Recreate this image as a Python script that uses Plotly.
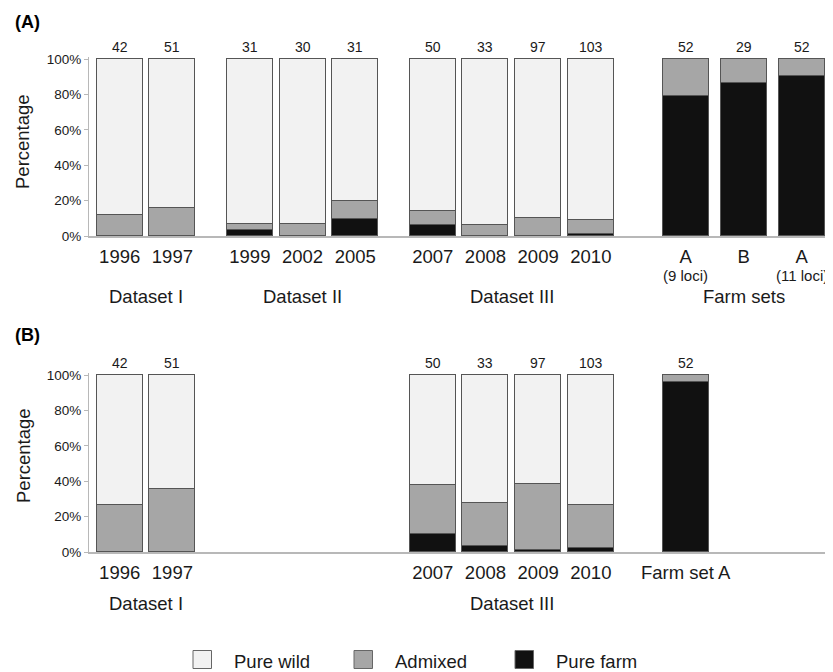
import plotly.graph_objects as go

# ---------------- data ----------------
a_keys = ["1996", "1997", "1999", "2002", "2005", "2007", "2008", "2009", "2010", "A9", "B", "A11"]
a_labels = ["1996", "1997", "1999", "2002", "2005", "2007", "2008", "2009", "2010", "A", "B", "A"]
a_n = [42, 51, 31, 30, 31, 50, 33, 97, 103, 52, 29, 52]
a_farm = [0, 0, 3.2, 0, 9.7, 6.0, 0, 0, 1.0, 78.8, 86.2, 90.4]
a_admixed = [11.9, 15.7, 3.2, 6.7, 9.7, 8.0, 6.1, 10.3, 7.7, 21.2, 13.8, 9.6]
a_wild = [88.1, 84.3, 93.6, 93.3, 80.6, 86.0, 93.9, 89.7, 91.3, 0, 0, 0]
a_sub = {"A9": "(9 loci)", "A11": "(11 loci)"}
a_groups = [
    ("Dataset I", ["1996", "1997"]),
    ("Dataset II", ["1999", "2002", "2005"]),
    ("Dataset III", ["2007", "2008", "2009", "2010"]),
    ("Farm sets", ["A9", "B", "A11"]),
]

b_keys = ["1996", "1997", "2007", "2008", "2009", "2010", "A9"]
b_labels = ["1996", "1997", "2007", "2008", "2009", "2010", "Farm set A"]
b_n = [42, 51, 50, 33, 97, 103, 52]
b_farm = [0, 0, 10.0, 3.0, 1.0, 1.9, 96.2]
b_admixed = [26.2, 35.3, 28.0, 24.3, 37.1, 24.3, 3.8]
b_wild = [73.8, 64.7, 62.0, 72.7, 61.9, 73.8, 0]
b_groups = [
    ("Dataset I", ["1996", "1997"]),
    ("Dataset III", ["2007", "2008", "2009", "2010"]),
]

series_names = ["Pure farm", "Admixed", "Pure wild"]
y_ticks = [0, 20, 40, 60, 80, 100]

# ---------------- styling / layout ----------------
W, H = 833, 672
PAGE_OFF = 8          # default page margin around the plot div
FONT = "Liberation Sans, Arial, sans-serif"
TXT = "#1a1a1a"
COLORS = {"Pure wild": "#f2f2f2", "Admixed": "#a6a6a6", "Pure farm": "#111111"}
EDGE = "#555555"
AXCOL = "#b8b8b8"


def px(x):
    return (x - PAGE_OFF) / W


def py(y):
    return 1 - (y - PAGE_OFF) / H


# slot layout (positions of bars along the x axis)
group_gap = {"Dataset II": 1.47, "Dataset III": 1.47, "Farm sets": 1.80}
group_step = {"Farm sets": 1.10}
pos = {}
cur = None
for gname, keys in a_groups:
    step = group_step.get(gname, 1.0)
    for i, k in enumerate(keys):
        if cur is None:
            cur = 0.0
        elif i == 0:
            cur += group_gap[gname]
        else:
            cur += step
        pos[k] = cur
BAR_W = 0.873
X_RANGE = [-0.5825, 13.383]
X_DOMAIN = [px(89), px(825)]
Y_MAX = 101
panelA_px = (59, 236)   # window rows of 100% and 0%
panelB_px = (375, 552)


def ydomain(top100, bottom0):
    top = top100 - (Y_MAX - 100) / 100 * (bottom0 - top100)
    return [py(bottom0), py(top)]


fig = go.Figure()


def add_panel(keys, farm, admixed, wild, xa, ya):
    xs = [pos[k] for k in keys]
    for name, vals in zip(series_names, [farm, admixed, wild]):
        fig.add_trace(go.Bar(
            x=xs, y=[v if v > 0 else None for v in vals], name=name,
            width=[BAR_W] * len(xs),
            marker=dict(color=COLORS[name], line=dict(color=EDGE, width=1)),
            xaxis=xa, yaxis=ya, showlegend=False, hoverinfo="skip",
        ))


add_panel(a_keys, a_farm, a_admixed, a_wild, "x", "y")
add_panel(b_keys, b_farm, b_admixed, b_wild, "x2", "y2")

xcommon = dict(range=X_RANGE, domain=X_DOMAIN, showgrid=False, zeroline=False,
               showline=True, linecolor=AXCOL, linewidth=2, ticks="",
               tickfont=dict(family=FONT, size=18.5, color=TXT), automargin=False,
               ticklabelstandoff=3, fixedrange=True)
ycommon = dict(range=[0, Y_MAX], tickvals=y_ticks, ticktext=[f"{t}%" for t in y_ticks],
               showgrid=False, zeroline=False, showline=True, linecolor=AXCOL, linewidth=1,
               ticks="outside", ticklen=4, tickcolor=AXCOL, tickwidth=1, automargin=False,
               tickfont=dict(family=FONT, size=13.5, color=TXT), fixedrange=True)

fig.update_layout(
    template="none",
    width=W, height=H, margin=dict(l=0, r=0, t=0, b=0, pad=0, autoexpand=False),
    paper_bgcolor="white", plot_bgcolor="white", barmode="stack", bargap=0,
    showlegend=False,
    xaxis=dict(xcommon, anchor="y", tickvals=[pos[k] for k in a_keys], ticktext=a_labels),
    yaxis=dict(ycommon, anchor="x", domain=ydomain(*panelA_px)),
    xaxis2=dict(xcommon, anchor="y2", tickvals=[pos[k] for k in b_keys], ticktext=b_labels),
    yaxis2=dict(ycommon, anchor="x2", domain=ydomain(*panelB_px)),
)

ann = []
# sample sizes above bars
for keys, ns, yref in [(a_keys, a_n, "y"), (b_keys, b_n, "y2")]:
    for k, n in zip(keys, ns):
        ann.append(dict(x=pos[k], y=100, xref=yref.replace("y", "x"), yref=yref, text=str(n),
                        showarrow=False, yanchor="middle", yshift=12.5,
                        font=dict(family=FONT, size=14, color=TXT)))
# loci sub-labels
for k, t in a_sub.items():
    ann.append(dict(x=pos[k], y=py(275.5), xref="x", yref="paper", text=t, showarrow=False,
                    yanchor="middle", font=dict(family=FONT, size=15, color=TXT)))
# group labels
for groups, xref, ypx in [(a_groups, "x", 296), (b_groups, "x2", 603)]:
    for gname, keys in groups:
        c = (pos[keys[0]] + pos[keys[-1]]) / 2
        if gname == "Farm sets":
            c = pos[keys[1]]
        ann.append(dict(x=c, y=py(ypx), xref=xref, yref="paper", text=gname, showarrow=False,
                        yanchor="middle", font=dict(family=FONT, size=18.5, color=TXT)))
# y titles
for ypx in [142, 456]:
    ann.append(dict(x=px(23), y=py(ypx), xref="paper", yref="paper", text="Percentage",
                    textangle=-90, showarrow=False, xanchor="center", yanchor="middle",
                    font=dict(family=FONT, size=18.5, color=TXT)))
# panel letters
for t, ypx in [("(A)", 22), ("(B)", 335)]:
    ann.append(dict(x=px(27), y=py(ypx), xref="paper", yref="paper", text=f"<b>{t}</b>",
                    showarrow=False, xanchor="center", yanchor="middle",
                    font=dict(family=FONT, size=18, color="#000")))

# legend (drawn manually)
shapes = []
legend_items = [("Pure wild", 193), ("Admixed", 354), ("Pure farm", 515)]
for name, x0 in legend_items:
    shapes.append(dict(type="rect", xref="paper", yref="paper",
                       x0=px(x0), x1=px(x0 + 18.5), y0=py(668.5), y1=py(650.5),
                       fillcolor=COLORS[name], line=dict(color="#666666", width=1)))
    ann.append(dict(x=px(x0 + 39), y=py(661), xref="paper", yref="paper", text=name,
                    showarrow=False, xanchor="left", yanchor="middle",
                    font=dict(family=FONT, size=18.5, color=TXT)))

fig.update_layout(annotations=ann, shapes=shapes)
fig.write_html("out.html")
